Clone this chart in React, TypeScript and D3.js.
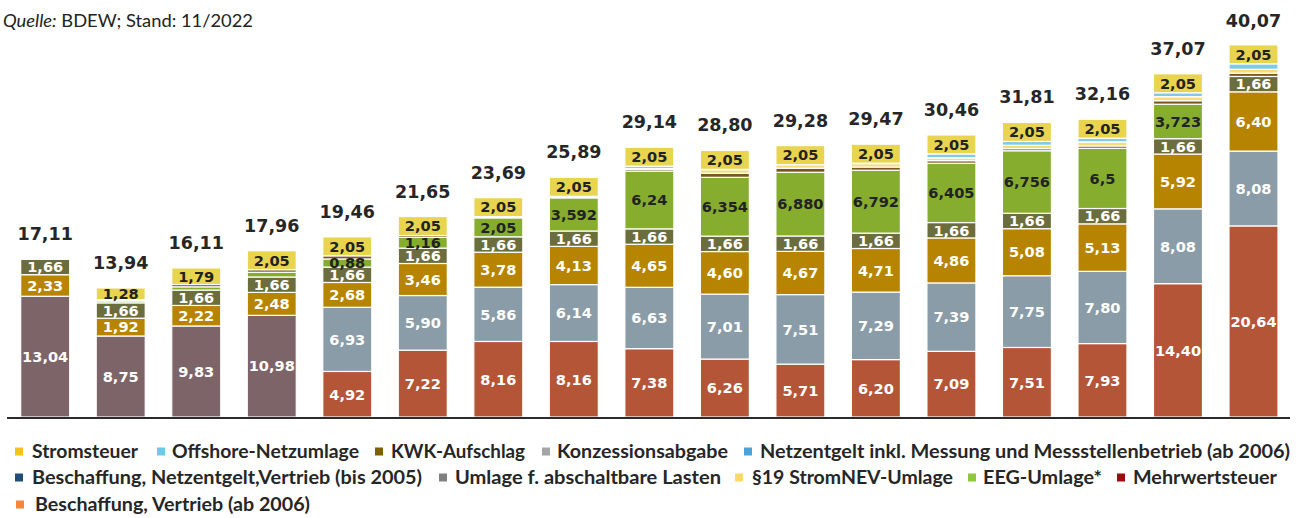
import React from "react";
import * as d3 from "d3";

// years (not printed in the chart, only used as band keys)
const categories = ["1998", "2000", "2002", "2004", "2006", "2008", "2010", "2012", "2014", "2016", "2017", "2018", "2019", "2020", "2021", "2022", "2023"];

// ct/kWh, stacked from bottom to top
const beschaffungBis2005 = [13.04, 8.75, 9.83, 10.98, 0, 0, 0, 0, 0, 0, 0, 0, 0, 0, 0, 0, 0];
const beschaffungAb2006 = [0, 0, 0, 0, 4.92, 7.22, 8.16, 8.16, 7.38, 6.26, 5.71, 6.2, 7.09, 7.51, 7.93, 14.4, 20.64];
const netzentgelt = [0, 0, 0, 0, 6.93, 5.9, 5.86, 6.14, 6.63, 7.01, 7.51, 7.29, 7.39, 7.75, 7.8, 8.08, 8.08];
const mehrwertsteuer = [2.33, 1.92, 2.22, 2.48, 2.68, 3.46, 3.78, 4.13, 4.65, 4.6, 4.67, 4.71, 4.86, 5.08, 5.13, 5.92, 6.4];
const konzession = [1.66, 1.66, 1.66, 1.66, 1.66, 1.66, 1.66, 1.66, 1.66, 1.66, 1.66, 1.66, 1.66, 1.66, 1.66, 1.66, 1.66];
const eeg = [0.08, 0.2, 0.35, 0.51, 0.88, 1.16, 2.05, 3.592, 6.24, 6.354, 6.88, 6.792, 6.405, 6.756, 6.5, 3.723, 0];
const eegLabels = ["", "", "", "", "0,88", "1,16", "2,05", "3,592", "6,24", "6,354", "6,880", "6,792", "6,405", "6,756", "6,5", "3,723", ""];
const kwk = [0, 0.13, 0.25, 0.28, 0.34, 0.2, 0.13, 0.002, 0.178, 0.445, 0.438, 0.345, 0.28, 0.226, 0.254, 0.378, 0.357];
const stromNev19 = [0, 0, 0, 0, 0, 0, 0, 0.151, 0.092, 0.378, 0.388, 0.37, 0.305, 0.358, 0.432, 0.437, 0.417];
const abschaltbar = [0, 0, 0, 0, 0, 0, 0, 0, 0.009, 0, 0.006, 0.011, 0.005, 0.007, 0.009, 0.003, 0];
const offshore = [0, 0, 0, 0, 0, 0, 0, 0, 0.25, 0.04, 0, 0.037, 0.416, 0.416, 0.395, 0.419, 0.591];
const stromsteuer = [0, 1.28, 1.79, 2.05, 2.05, 2.05, 2.05, 2.05, 2.05, 2.05, 2.05, 2.05, 2.05, 2.05, 2.05, 2.05, 2.05];
const totals = [17.11, 13.94, 16.11, 17.96, 19.46, 21.65, 23.69, 25.89, 29.14, 28.8, 29.28, 29.47, 30.46, 31.81, 32.16, 37.07, 40.07];

const fmt = (v: number) => d3.format(".2f")(v).replace(".", ",");

type Series = {
  key: string;
  values: number[];
  fill: string;
  text?: string;
  label?: (v: number, i: number) => string;
};

const series: Series[] = [
  { key: "bis2005", values: beschaffungBis2005, fill: "#7d6469", text: "#fff", label: (v) => (v ? fmt(v) : "") },
  { key: "ab2006", values: beschaffungAb2006, fill: "#b55537", text: "#fff", label: (v) => (v ? fmt(v) : "") },
  { key: "netz", values: netzentgelt, fill: "#8a9ca7", text: "#fff", label: (v) => (v ? fmt(v) : "") },
  { key: "mwst", values: mehrwertsteuer, fill: "#b78400", text: "#fff", label: (v) => fmt(v) },
  { key: "konz", values: konzession, fill: "#6c6d3c", text: "#fff", label: (v) => fmt(v) },
  { key: "eeg", values: eeg, fill: "#87ad2f", text: "#222", label: (v, i) => eegLabels[i] },
  { key: "kwk", values: kwk, fill: "#7a5a1c" },
  { key: "nev", values: stromNev19, fill: "#f6dc74" },
  { key: "absch", values: abschaltbar, fill: "#9a9a9a" },
  { key: "offshore", values: offshore, fill: "#7fcbe6" },
  { key: "steuer", values: stromsteuer, fill: "#e8d44e", text: "#222", label: (v) => (v ? fmt(v) : "") },
];

// legend: [label, swatch colour, swatch x, text x, text width, row]
const legendItems: [string, string, number, number, number, number][] = [
  ["Stromsteuer", "#f8c21c", 15, 32, 106, 0],
  ["Offshore-Netzumlage", "#6bcbe3", 157, 172, 187, 0],
  ["KWK-Aufschlag", "#7f6000", 375, 391, 134, 0],
  ["Konzessionsabgabe", "#a5a5a5", 542, 557, 171, 0],
  ["Netzentgelt inkl. Messung und Messstellenbetrieb (ab 2006)", "#4ba3da", 744, 760, 530, 0],
  ["Beschaffung, Netzentgelt,Vertrieb (bis 2005)", "#1f4e79", 15, 32, 390, 1],
  ["Umlage f. abschaltbare Lasten", "#808080", 439, 455, 266, 1],
  ["§19 StromNEV-Umlage", "#ffd966", 735, 752, 201, 1],
  ["EEG-Umlage*", "#8dc63f", 968, 983, 119, 1],
  ["Mehrwertsteuer", "#9e0b0f", 1117, 1133, 144, 1],
  ["Beschaffung, Vertrieb (ab 2006)", "#f4863b", 16, 35, 275, 2],
];
const rowBaseline = [458, 484, 511];

export default function App() {
  const width = 1302;
  const height = 518;

  const rows = categories.map((c, i) => {
    const r: Record<string, any> = { cat: c };
    series.forEach((s) => (r[s.key] = s.values[i]));
    return r;
  });
  const stacked = d3.stack<Record<string, any>>().keys(series.map((s) => s.key))(rows);

  const x = d3.scaleBand().domain(categories).range([20.7, 1278]).paddingInner(0.351).paddingOuter(0);
  const y = d3.scaleLinear().domain([0, d3.max(totals) as number]).range([417, 46]);

  const labelFont = "'DejaVu Sans', Verdana, sans-serif";
  const legendFont = "Lato, 'Open Sans', sans-serif";

  return (
    <svg width={width} height={height} style={{ position: "absolute", left: 0, top: 0, background: "#fff" }}>
      <text x={3} y={26.5} fontFamily={legendFont} fontSize={18} fill="#222" textLength={250} lengthAdjust="spacingAndGlyphs">
        <tspan fontStyle="italic">Quelle:</tspan> BDEW; Stand: 11/2022
      </text>

      {stacked.map((layer, li) => (
        <g key={layer.key}>
          {layer.map((d, i) => {
            const h = y(d[0]) - y(d[1]);
            if (h <= 0) return null;
            return (
              <rect
                key={i}
                x={x(categories[i])}
                y={y(d[1])}
                width={x.bandwidth()}
                height={h}
                fill={series[li].fill}
                stroke="#fff"
                strokeWidth={1.2}
              />
            );
          })}
        </g>
      ))}

      {stacked.map((layer, li) => {
        const s = series[li];
        if (!s.label) return null;
        return (
          <g key={"l" + layer.key}>
            {layer.map((d, i) => {
              const t = s.label!(s.values[i], i);
              if (!t) return null;
              return (
                <text
                  key={i}
                  x={(x(categories[i]) as number) + x.bandwidth() / 2}
                  y={(y(d[0]) + y(d[1])) / 2 + 5.3}
                  textAnchor="middle"
                  fontFamily={labelFont}
                  fontWeight="bold"
                  fontSize={14.6}
                  fill={s.text}
                >
                  {t}
                </text>
              );
            })}
          </g>
        );
      })}

      {totals.map((t, i) => (
        <text
          key={"t" + i}
          x={(x(categories[i]) as number) + x.bandwidth() / 2}
          y={y(t) - 19}
          textAnchor="middle"
          fontFamily={labelFont}
          fontWeight="bold"
          fontSize={17.5}
          fill="#262626"
        >
          {fmt(t)}
        </text>
      ))}

      <line x1={7} x2={1290} y1={418} y2={418} stroke="#2b2b2b" strokeWidth={2.2} />

      {legendItems.map(([name, color, sx, tx, tw, row]) => (
        <g key={name}>
          <rect x={sx} y={rowBaseline[row] - 10.5} width={8} height={8} fill={color} />
          <text
            x={tx}
            y={rowBaseline[row]}
            fontFamily={legendFont}
            fontWeight="bold"
            fontSize={18}
            fill="#262626"
            textLength={tw}
            lengthAdjust="spacingAndGlyphs"
          >
            {name}
          </text>
        </g>
      ))}
    </svg>
  );
}
